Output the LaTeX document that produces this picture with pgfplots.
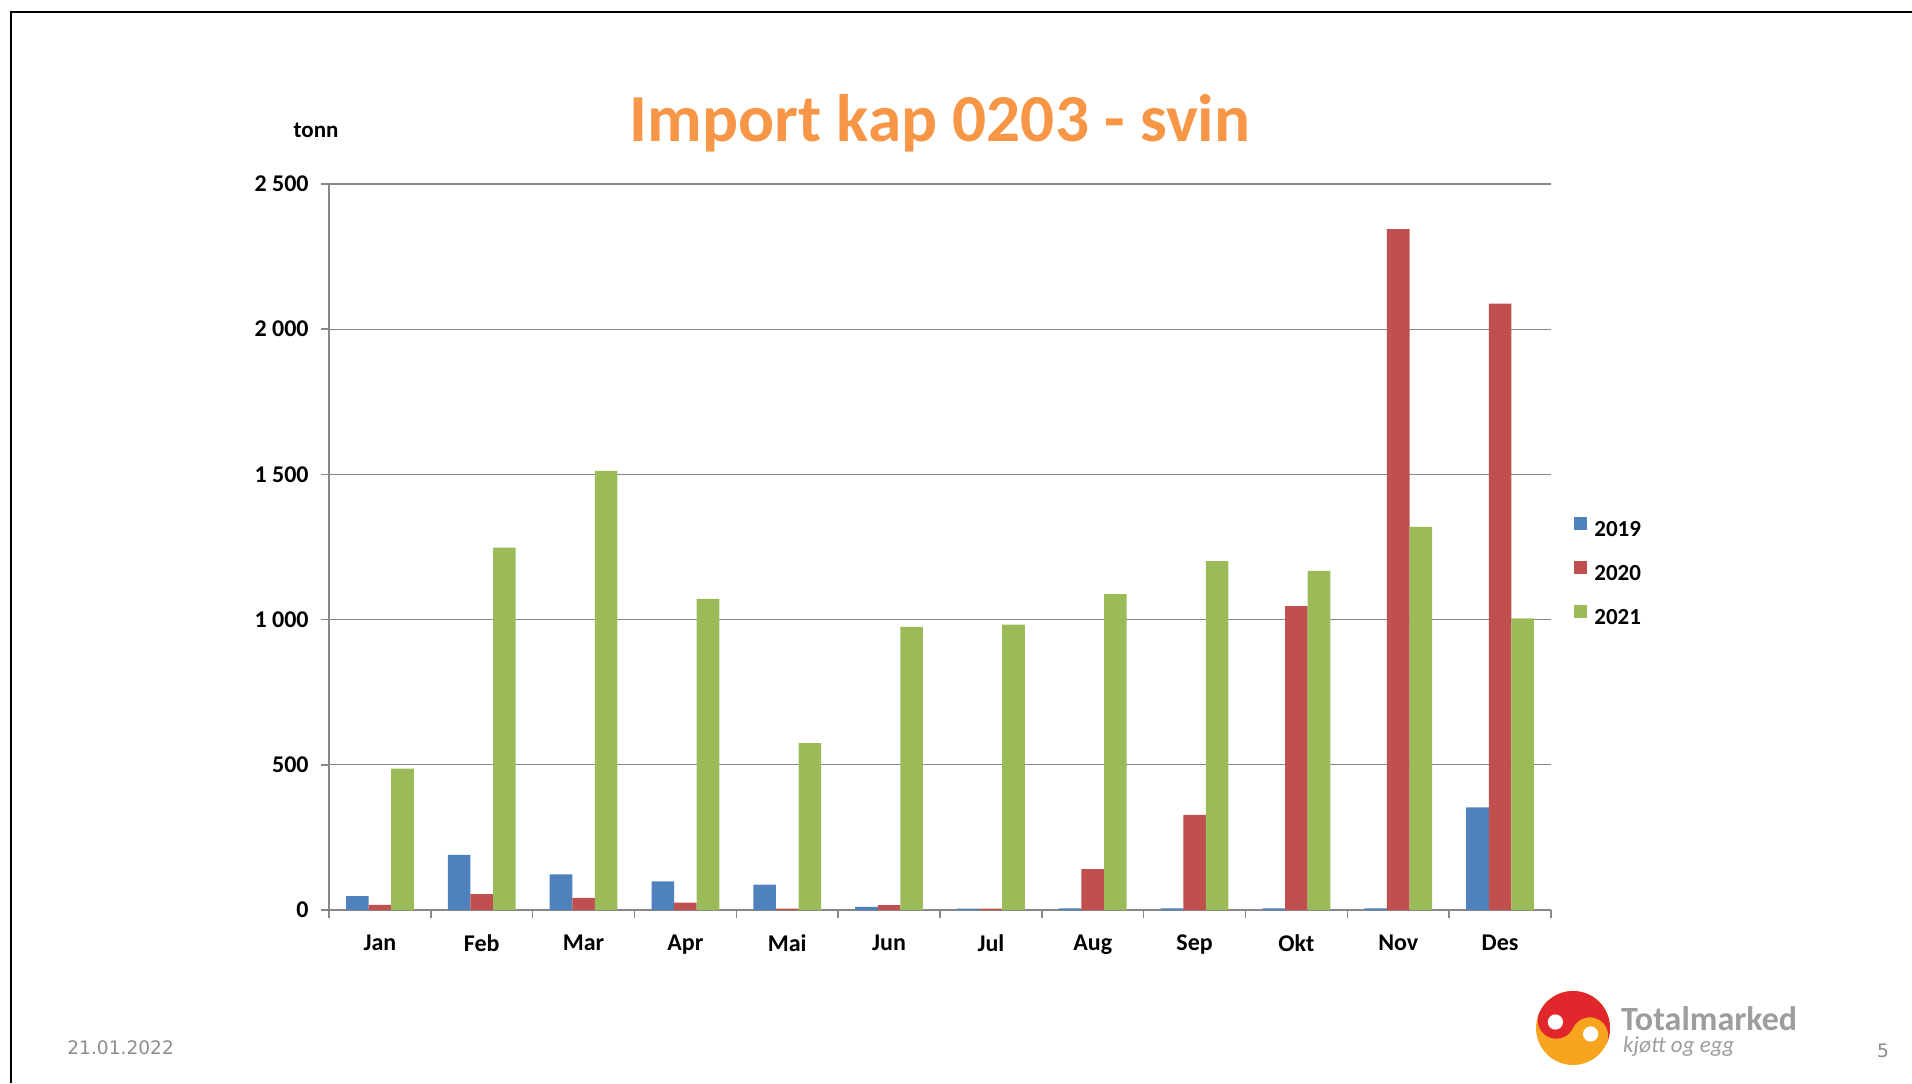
\documentclass[border=0pt]{standalone}
\usepackage{pgfplots}
\usepackage{fontspec}
\pgfplotsset{compat=1.18}
\setmainfont{Carlito}
\newfontfamily\datefont{DejaVu Sans}
\definecolor{s2019}{HTML}{4F81BD}
\definecolor{s2020}{HTML}{C0504D}
\definecolor{s2021}{HTML}{9BBB59}
\definecolor{titleorange}{HTML}{F79646}
\definecolor{axisgray}{HTML}{878787}
\definecolor{footgray}{HTML}{8C8C8C}
\definecolor{logored}{HTML}{E2272C}
\definecolor{logoorange}{HTML}{F7A51E}

\pgfplotstableread{
m   y2019 y2020 y2021
1   48    18    487
2   190   55    1248
3   123   42    1512
4   99    25    1071
5   87    5     575
6   11    17    975
7   5     5     983
8   6     141   1088
9   6     328   1201
10  6     1046  1168
11  6     2345  1319
12  353   2088  1004
}\importdata

\begin{document}
\begin{tikzpicture}[x=1pt,y=1pt]
\useasboundingbox (0,0) rectangle (956,541.5);
% slide frame
\draw[line width=1pt] (5.5,0) -- (5.5,535.5) -- (956,535.5);
\node[font=\bfseries\fontsize{33.6}{36}\selectfont, text=titleorange] at (470,480) {Import kap 0203 - svin};
\node[font=\bfseries\fontsize{11.5}{13}\selectfont] at (158,476.5) {tonn};

\begin{axis}[
  at={(164.5pt,86.5pt)}, anchor=south west,
  scale only axis,
  width=611pt, height=363pt,
  ybar=0pt, bar width=11.3pt,
  xmin=0.5, xmax=12.5, ymin=0, ymax=2500,
  axis x line*=bottom, axis y line*=left,
  axis line style={axisgray, line width=0.8pt, -},
  xtick={0.5,1.5,...,12.5},
  x tick label as interval,
  xticklabels={Jan,Feb,Mar,Apr,Mai,Jun,Jul,Aug,Sep,Okt,Nov,Des},
  ytick={0,500,1000,1500,2000,2500},
  yticklabels={0,500,1\ 000,1\ 500,2\ 000,2\ 500},
  tick align=outside,
  major tick length=4pt,
  tick style={axisgray, line width=0.8pt},
  ymajorgrids,
  grid style={axisgray, line width=0.6pt},
  ticklabel style={font=\bfseries\fontsize{12}{13}\selectfont},
  xticklabel style={inner sep=0pt, yshift=-8.2pt},
  yticklabel style={inner sep=0pt, xshift=-6pt},
  legend style={at={(1.0188,0.4656)}, anchor=west, draw=none, fill=none,
    inner sep=0pt, font=\bfseries\fontsize{11.5}{13}\selectfont,
    row sep=10.7pt, column sep=3.5pt, nodes={inner sep=0pt}},
  legend image code/.code={\fill[#1] (0pt,0.3pt) rectangle (6.5pt,6.8pt);},
  legend cell align=left,
]
\addplot[fill=s2019, draw=none] table[x=m, y=y2019] {\importdata};
\addplot[fill=s2020, draw=none] table[x=m, y=y2020] {\importdata};
\addplot[fill=s2021, draw=none] table[x=m, y=y2021] {\importdata};
\legend{2019,2020,2021}
\end{axis}

% footer
\node[font=\datefont\fontsize{9.3}{11}\selectfont, text=footgray, anchor=west, inner sep=0pt] at (33.5,17.5) {21.01.2022};
\node[font=\datefont\fontsize{9.3}{11}\selectfont, text=footgray] at (941.5,16) {5};

% logo
\begin{scope}[shift={(786.5,27.5)}, rotate=-25]
  \fill[logoorange] (0,0) circle (18.5);
  \fill[logored] (18.5,0) arc (0:180:18.5) arc (180:360:9.25) arc (180:0:9.25);
  \fill[white] (9.25,1) circle (3.8);
  \fill[white] (-9.25,-1) circle (3.8);
\end{scope}
\node[font=\bfseries\fontsize{17}{19}\selectfont, text=footgray!85, anchor=base west] at (807,26.5) {Totalmarked};
\node[font=\itshape\fontsize{11.5}{13}\selectfont, text=footgray!85, anchor=base west] at (808,15.5) {kjøtt og egg};
\end{tikzpicture}
\end{document}
